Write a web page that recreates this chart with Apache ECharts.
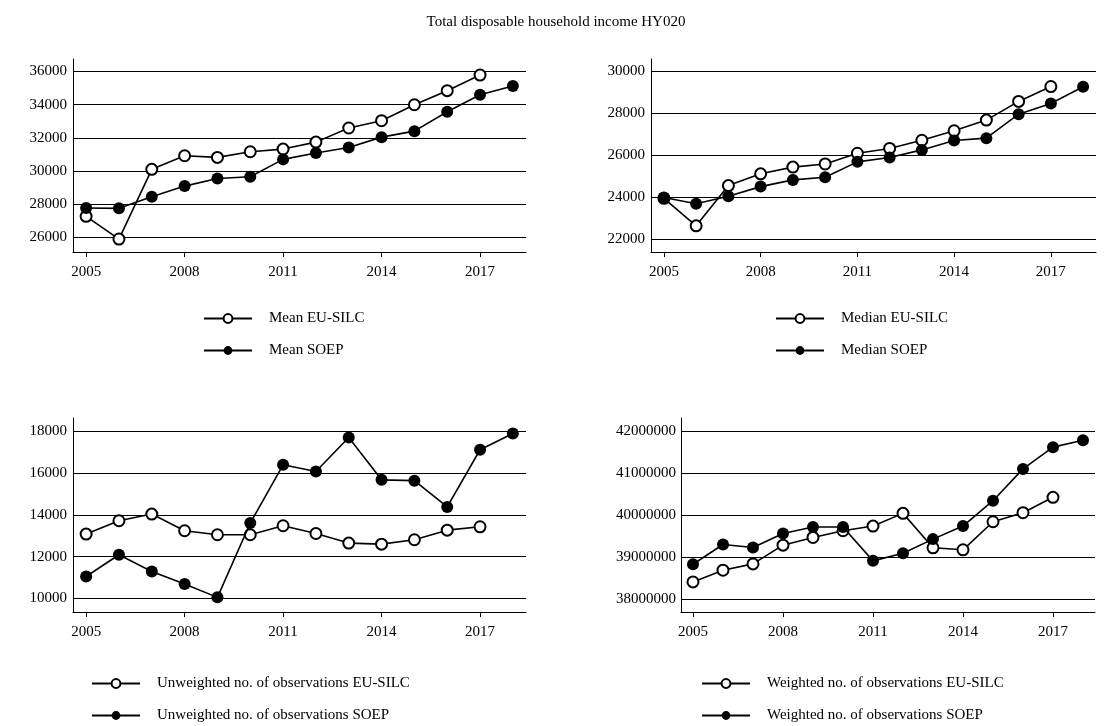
<!DOCTYPE html>
<html><head><meta charset="utf-8">
<script src="https://cdn.jsdelivr.net/npm/echarts@6/dist/echarts.min.js"></script>
<style>html,body{margin:0;padding:0;background:#fff}#c{width:1112px;height:726px}</style>
</head><body><div id="c"></div>
<script>
const titleText = 'Total disposable household income HY020';
const years = [2005,2006,2007,2008,2009,2010,2011,2012,2013,2014,2015,2016,2017,2018];
const xTickLabels = [2005,2008,2011,2014,2017];

const meanSILC = [27270,25900,30100,30920,30820,31160,31320,31740,32590,33030,33990,34840,35780];
const meanSOEP = [27770,27750,28450,29090,29550,29650,30700,31080,31420,32040,32400,33570,34590,35120];
const meanTicks = [26000,28000,30000,32000,34000,36000];

const medianSILC = [23950,22640,24560,25120,25440,25590,26100,26330,26720,27170,27680,28570,29280];
const medianSOEP = [23990,23690,24050,24510,24830,24960,25690,25900,26260,26710,26820,27960,28470,29270];
const medianTicks = [22000,24000,26000,28000,30000];

const unwSILC = [13080,13720,14040,13240,13050,13050,13480,13110,12650,12600,12810,13270,13430];
const unwSOEP = [11050,12090,11290,10690,10050,13610,16400,16080,17710,15680,15640,14380,17120,17900];
const unwTicks = [10000,12000,14000,16000,18000];

const wSILC = [38407000,38687000,38838000,39285000,39469000,39629000,39741000,40044000,39222000,39174000,39844000,40060000,40427000];
const wSOEP = [38830000,39301000,39230000,39565000,39717000,39717000,38910000,39094000,39429000,39741000,40347000,41106000,41625000,41792000];
const wTicks = [38000000,39000000,40000000,41000000,42000000];

const names = [
  ['Mean EU-SILC','Mean SOEP'],
  ['Median EU-SILC','Median SOEP'],
  ['Unweighted no. of observations EU-SILC','Unweighted no. of observations SOEP'],
  ['Weighted no. of observations EU-SILC','Weighted no. of observations SOEP']
];

const FONT = "'Liberation Serif','Times New Roman',serif";
const grids = [
  {left:73, top:59, width:453, height:193},
  {left:651, top:59, width:445, height:193},
  {left:73, top:418, width:453, height:194},
  {left:681, top:418, width:414, height:194}
];
const yRanges = [[25120,36747],[21394,30592],[9349,18642],[37689000,42321000]];
const yTicks = [meanTicks, medianTicks, unwTicks, wTicks];
const yMargins = [6,6,6,5];

const xAxes = grids.map((g,i)=>({
  type:'value', gridIndex:i, min:2004.6, max:2018.4,
  axisLine:{show:true, onZero:false, lineStyle:{color:'#000', width:1}},
  axisTick:{show:true, length:5, customValues:xTickLabels, lineStyle:{color:'#000', width:1}},
  axisLabel:{customValues:xTickLabels, formatter:v=>String(v), color:'#000', fontFamily:FONT, fontSize:15, margin:13},
  splitLine:{show:false}
}));
const yAxes = grids.map((g,i)=>({
  type:'value', gridIndex:i, min:yRanges[i][0], max:yRanges[i][1],
  axisLine:{show:true, onZero:false, lineStyle:{color:'#000', width:1}},
  axisTick:{show:false, customValues:yTicks[i]},
  axisLabel:{customValues:yTicks[i], formatter:v=>String(v), color:'#000', fontFamily:FONT, fontSize:15, margin:yMargins[i]},
  splitLine:{show:true, lineStyle:{color:'#000', width:1}}
}));

function mk(name, arr, gi, filled){
  return {
    type:'line', name:name, xAxisIndex:gi, yAxisIndex:gi,
    data: arr.map((v,i)=>[years[i], v]),
    symbol: filled ? 'circle' : 'emptyCircle',
    symbolSize: filled ? 12 : 11,
    showAllSymbol:true,
    lineStyle:{color:'#000', width:1.6},
    itemStyle:{color:'#000', borderWidth: filled ? 0 : 1.5},
    z: filled ? 4 : 3,
    silent:true, animation:false,
    emphasis:{disabled:true}
  };
}
const series = [
  mk(names[0][0], meanSILC, 0, false), mk(names[0][1], meanSOEP, 0, true),
  mk(names[1][0], medianSILC, 1, false), mk(names[1][1], medianSOEP, 1, true),
  mk(names[2][0], unwSILC, 2, false), mk(names[2][1], unwSOEP, 2, true),
  mk(names[3][0], wSILC, 3, false), mk(names[3][1], wSOEP, 3, true)
];

const legendPos = [[203,311],[775,311],[91,676],[701,676]];
const legends = legendPos.map((p,i)=>({
  data: names[i], orient:'vertical', left:p[0], top:p[1], padding:0, height:60, width:420,
  itemWidth:48, itemHeight:11, itemGap:17, selectedMode:false,
  textStyle:{fontFamily:FONT, fontSize:15, color:'#000', padding:[0,0,0,12]}
}));

const chart = echarts.init(document.getElementById('c'), null, {renderer:'canvas'});
chart.setOption({
  backgroundColor:'#fff',
  animation:false,
  title:{text:titleText, left:'center', top:10, textStyle:{fontFamily:FONT, fontSize:15, fontWeight:'normal', color:'#000'}},
  grid: grids,
  xAxis: xAxes,
  yAxis: yAxes,
  legend: legends,
  series: series
});
</script></body></html>
